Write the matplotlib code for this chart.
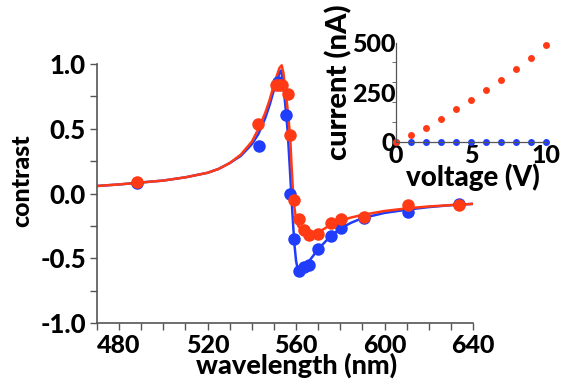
import numpy as np
import matplotlib
matplotlib.use("Agg")
import matplotlib.pyplot as plt
from matplotlib.ticker import MultipleLocator

plt.rcParams["font.family"] = ["Lato", "DejaVu Sans"]
plt.rcParams["font.weight"] = "black"
plt.rcParams["axes.labelweight"] = "black"
plt.rcParams["axes.unicode_minus"] = False

BLUE = "#1f3dfb"
RED = "#ff3a14"
SPINE = "#555555"
W = "black"

# ── Data ──────────────────────────────────────────────────────────────────────
blue_pts_wl = [488, 543.3, 551.7, 555.5, 557.4, 559.2, 561.5, 563.8, 566, 569.8,
               575.9, 580.5, 590.7, 610.8, 633.5]
blue_pts_c = [0.08, 0.37, 0.86, 0.61, -0.005, -0.35, -0.60, -0.57, -0.55, -0.43,
              -0.33, -0.27, -0.19, -0.145, -0.08]

red_pts_wl = [488, 542.9, 550.9, 552.5, 553.5, 556.2, 557.4, 558.9, 561.5, 563.8,
              566, 569.8, 575.9, 580.5, 590.7, 610.8, 633.5]
red_pts_c = [0.09, 0.54, 0.84, 0.84, 0.84, 0.77, 0.45, -0.05, -0.20, -0.28,
             -0.32, -0.31, -0.23, -0.20, -0.18, -0.09, -0.09]

blue_fit_wl = [470, 480, 490, 500, 510, 520, 525, 530, 535, 540, 543, 546, 548, 550,
               551.5, 552.5, 553.2, 554, 554.7, 555.5, 556.2, 557, 557.5, 558, 558.7,
               559.3, 560, 560.7, 561.5, 563, 566, 570, 575, 580, 585, 590, 600, 610,
               620, 630, 640]
blue_fit_c = [0.058, 0.07, 0.085, 0.10, 0.125, 0.16, 0.19, 0.235, 0.29, 0.38, 0.46,
              0.58, 0.68, 0.80, 0.88, 0.93, 0.95, 0.88, 0.76, 0.62, 0.48, 0.25, 0.10,
              -0.05, -0.25, -0.40, -0.52, -0.58, -0.60, -0.57, -0.52, -0.43, -0.34,
              -0.27, -0.225, -0.19, -0.15, -0.125, -0.105, -0.09, -0.08]

red_fit_wl = [470, 480, 490, 500, 510, 520, 525, 530, 535, 540, 543, 546, 548, 550,
              551.5, 552.5, 553.5, 554.3, 555, 556, 557, 557.5, 558, 558.5, 559.2, 560,
              561, 563, 565, 567.5, 570, 573, 576, 580, 585, 590, 600, 610, 620, 630,
              640]
red_fit_c = [0.058, 0.07, 0.085, 0.10, 0.125, 0.16, 0.19, 0.235, 0.30, 0.40, 0.50,
             0.62, 0.72, 0.84, 0.92, 0.97, 0.99, 0.93, 0.82, 0.68, 0.50, 0.38, 0.20,
             0.05, -0.10, -0.20, -0.25, -0.295, -0.315, -0.32, -0.30, -0.27, -0.235,
             -0.21, -0.185, -0.165, -0.135, -0.115, -0.10, -0.09, -0.08]

voltage = [0, 1, 2, 3, 4, 5, 6, 7, 8, 9, 10]
current_red = [0, 34, 71, 117, 163, 212, 259, 314, 369, 425, 486]
current_blue = [0, 0, 0, 0, 0, 0, 0, 0, 0, 0, 0]

wl_ticks = [480, 520, 560, 600, 640]
contrast_ticks = [-1, -0.5, 0, 0.5, 1]
contrast_labels = ["-1.0", "-0.5", "0.0", "0.5", "1.0"]
volt_ticks = [0, 5, 10]
curr_ticks = [0, 250, 500]

# ── Figure ────────────────────────────────────────────────────────────────────
fig = plt.figure(figsize=(5.63, 3.81), dpi=100)
ax = fig.add_axes([97 / 563, 1 - 323 / 381, 376 / 563, 259 / 381])

ax.plot(blue_fit_wl, blue_fit_c, color=BLUE, lw=1.8)
ax.plot(red_fit_wl, red_fit_c, color=RED, lw=1.8)
ax.plot(blue_pts_wl, blue_pts_c, "o", color=BLUE, ms=9, mec="none")
ax.plot(red_pts_wl, red_pts_c, "o", color=RED, ms=9, mec="none")

ax.set_xlim(470, 640)
ax.set_ylim(-1, 1)
ax.xaxis.set_minor_locator(MultipleLocator(10))
ax.yaxis.set_minor_locator(MultipleLocator(0.25))
for s in ["top", "right"]:
    ax.spines[s].set_visible(False)
for s in ["left", "bottom"]:
    ax.spines[s].set_color(SPINE)
    ax.spines[s].set_linewidth(1.2)
ax.tick_params(which="both", length=5, width=1.0, color=SPINE, pad=3)
ax.set_xticks(wl_ticks)
ax.set_xticklabels([str(t) for t in wl_ticks], fontsize=18, fontweight=W)
ax.set_yticks(contrast_ticks)
ax.set_yticklabels(contrast_labels, fontsize=18.5, fontweight=W)
ax.set_xlabel("wavelength (nm)", fontsize=19.5, fontweight=W)
ax.xaxis.set_label_coords(0.53, -0.114)
ax.set_ylabel("contrast", fontsize=18, fontweight=W)
ax.yaxis.set_label_coords(-0.17, 0.548)

# inset
ins = fig.add_axes([396 / 563, 1 - 141.7 / 381, 150 / 563, 99 / 381])
ins.plot(voltage, current_blue, "o", color=BLUE, ms=5, mec="none", clip_on=False)
ins.plot(voltage, current_red, "o", color=RED, ms=5, mec="none", clip_on=False)
ins.set_xlim(0, 10)
ins.set_ylim(0, 500)
ins.yaxis.set_minor_locator(MultipleLocator(100))
ins.patch.set_alpha(0)
for s in ["top", "right"]:
    ins.spines[s].set_visible(False)
for s in ["left", "bottom"]:
    ins.spines[s].set_color(SPINE)
    ins.spines[s].set_linewidth(0.9)
ins.tick_params(axis="x", which="both", length=0, pad=2)
ins.tick_params(axis="y", which="major", length=0, pad=0)
ins.tick_params(axis="y", which="minor", length=3, color=SPINE)
ins.set_xticks(volt_ticks)
ins.set_xticklabels([str(t) for t in volt_ticks], fontsize=18, fontweight=W)
ins.set_yticks(curr_ticks)
ins.set_yticklabels([str(t) for t in curr_ticks], fontsize=18, fontweight=W)
ins.set_xlabel("voltage (V)", fontsize=20, fontweight=W)
ins.xaxis.set_label_coords(0.513, -0.22)
ins.set_ylabel("current (nA)", fontsize=21, fontweight=W)
ins.yaxis.set_label_coords(-0.29, 0.60)

fig.savefig("out.png", dpi=100)
